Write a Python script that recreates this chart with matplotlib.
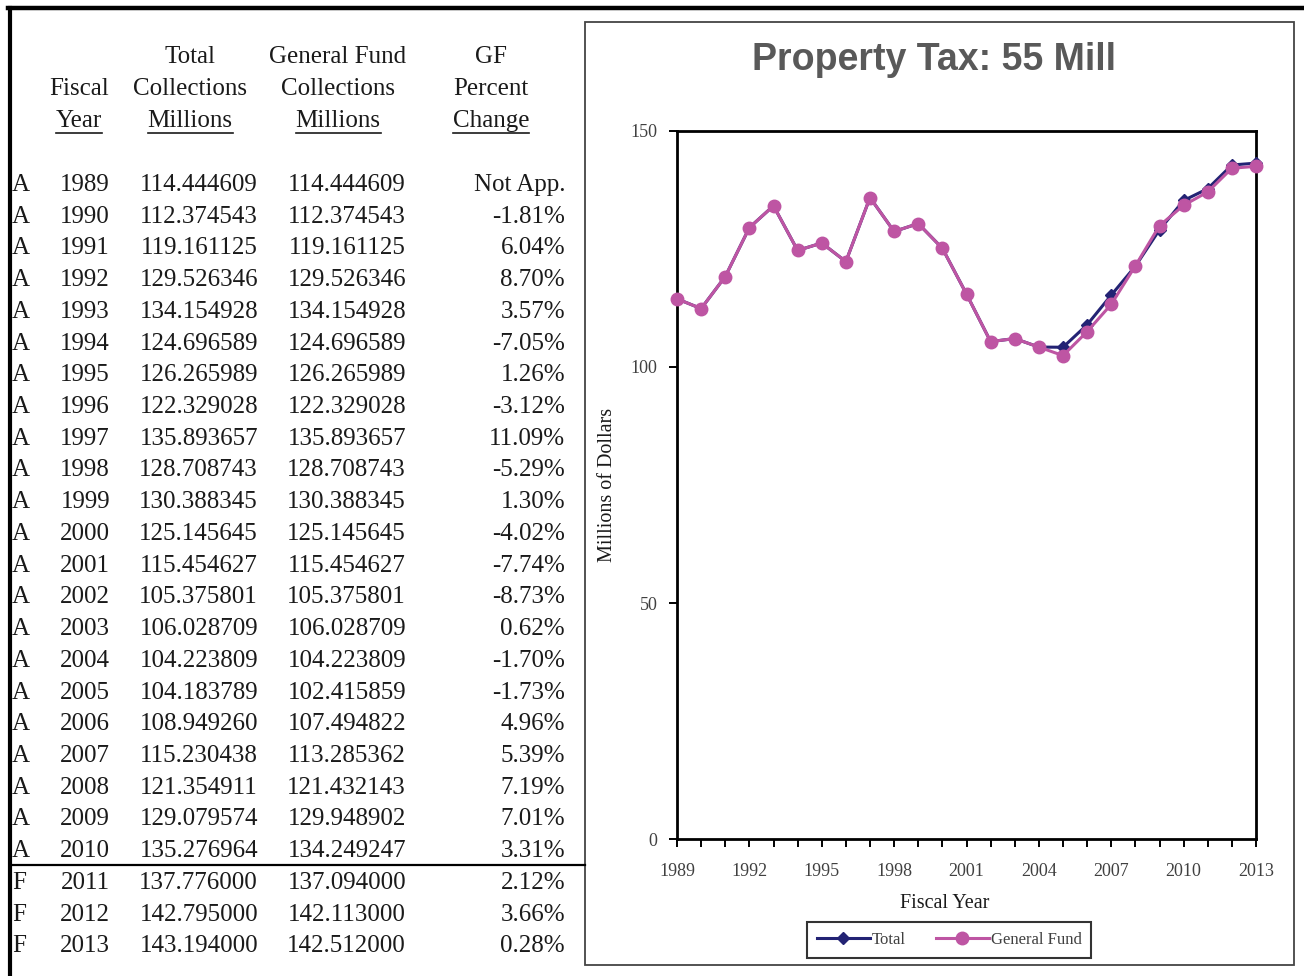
import matplotlib
matplotlib.use("Agg")

import matplotlib.pyplot as plt
from matplotlib.lines import Line2D
from matplotlib.patches import Rectangle

W, H = 1304, 976
SERIF = ["Liberation Serif", "DejaVu Serif"]

YEARS = list(range(1989, 2014))
STATUS = ["A"] * 22 + ["F"] * 3
TOTAL = [114.444609, 112.374543, 119.161125, 129.526346, 134.154928, 124.696589,
         126.265989, 122.329028, 135.893657, 128.708743, 130.388345, 125.145645,
         115.454627, 105.375801, 106.028709, 104.223809, 104.183789, 108.949260,
         115.230438, 121.354911, 129.079574, 135.276964, 137.776000, 142.795000,
         143.194000]
GENERAL_FUND = [114.444609, 112.374543, 119.161125, 129.526346, 134.154928, 124.696589,
                126.265989, 122.329028, 135.893657, 128.708743, 130.388345, 125.145645,
                115.454627, 105.375801, 106.028709, 104.223809, 102.415859, 107.494822,
                113.285362, 121.432143, 129.948902, 134.249247, 137.094000, 142.113000,
                142.512000]
PCT_CHANGE = [None, -1.81, 6.04, 8.70, 3.57, -7.05, 1.26, -3.12, 11.09, -5.29,
              1.30, -4.02, -7.74, -8.73, 0.62, -1.70, -1.73, 4.96, 5.39, 7.19,
              7.01, 3.31, 2.12, 3.66, 0.28]

HEADERS = [
    (79, ["", "Fiscal", "Year"]),
    (190, ["Total", "Collections", "Millions"]),
    (338, ["General Fund", "Collections", "Millions"]),
    (491, ["GF", "Percent", "Change"]),
]

TOTAL_COLOR = "#232374"
GF_COLOR = "#BE55A3"
TEXT_COLOR = "#1a1a1a"


def fx(px):
    return px / W


def fy(py):
    return 1 - py / H


fig = plt.figure(figsize=(W / 100, H / 100), dpi=100)

# outer page border (top and left only)
fig.add_artist(Line2D([fx(8), fx(W)], [fy(8), fy(8)], color="black", lw=3.2))
fig.add_artist(Line2D([fx(10), fx(10)], [fy(8), fy(H)], color="black", lw=3.0))

# ---- table ----
table_fs = 18
header_rows = [57, 89, 121]
underline_texts = []
for cx, lines in HEADERS:
    for row_y, txt in zip(header_rows, lines):
        if not txt:
            continue
        t = fig.text(fx(cx), fy(row_y), txt, ha="center", va="center",
                     family=SERIF, fontsize=table_fs, color=TEXT_COLOR)
        if row_y == header_rows[-1]:
            underline_texts.append(t)

row0, step = 183, 31.72
for i, yr in enumerate(YEARS):
    base = fy(row0 + i * step + 8)
    pct = "Not App." if PCT_CHANGE[i] is None else f"{PCT_CHANGE[i]:.2f}%"
    fig.text(fx(12), base, STATUS[i], ha="left", va="baseline",
             family=SERIF, fontsize=table_fs, color=TEXT_COLOR)
    fig.text(fx(110), base, str(yr), ha="right", va="baseline",
             family=SERIF, fontsize=table_fs, color=TEXT_COLOR)
    fig.text(fx(258), base, f"{TOTAL[i]:.6f}", ha="right", va="baseline",
             family=SERIF, fontsize=table_fs, color=TEXT_COLOR)
    fig.text(fx(406), base, f"{GENERAL_FUND[i]:.6f}", ha="right", va="baseline",
             family=SERIF, fontsize=table_fs, color=TEXT_COLOR)
    fig.text(fx(565), base, pct, ha="right", va="baseline",
             family=SERIF, fontsize=table_fs, color=TEXT_COLOR)

# actual / forecast separator
fig.add_artist(Line2D([fx(10), fx(585)], [fy(865), fy(865)], color="black", lw=1.6))

# ---- chart panel ----
fig.add_artist(Rectangle((fx(585), fy(965)), fx(1294) - fx(585), fy(22) - fy(965),
                         transform=fig.transFigure, fill=False,
                         edgecolor="#444444", lw=1.3))

fig.text(fx(934), fy(60), "Property Tax: 55 Mill", ha="center", va="center",
         family=["Liberation Sans", "DejaVu Sans"], fontweight="bold",
         fontsize=27, color="#595959")

ax = fig.add_axes([fx(677), fy(839), fx(1256) - fx(677), fy(131) - fy(839)])
l_total, = ax.plot(YEARS, TOTAL, color=TOTAL_COLOR, lw=2.2, marker="D", ms=6,
                   label="Total", zorder=3, clip_on=False)
l_gf, = ax.plot(YEARS, GENERAL_FUND, color=GF_COLOR, lw=2.2, marker="o", ms=9,
                label="General Fund", zorder=4, clip_on=False)

ax.set_xlim(1989, 2013)
ax.set_ylim(0, 150)
ax.set_xticks(YEARS)
ax.set_xticklabels([str(y) if (y - 1989) % 3 == 0 else "" for y in YEARS])
ax.set_yticks([0, 50, 100, 150])
for s in ax.spines.values():
    s.set_linewidth(2.0)
ax.tick_params(axis="x", direction="out", length=6, width=1.4, pad=11,
               labelsize=13, labelcolor="#404040")
ax.tick_params(axis="y", direction="out", length=6, width=1.4, pad=8,
               labelsize=13, labelcolor="#404040")
for lab in ax.get_xticklabels() + ax.get_yticklabels():
    lab.set_family(SERIF)

ax.set_xlabel("Fiscal Year", family=SERIF, fontsize=14.5, color=TEXT_COLOR)
ax.xaxis.set_label_coords((945 - 677) / 579, (839 - 904) / 708)
ax.xaxis.label.set_va("center")
ax.set_ylabel("Millions of Dollars", family=SERIF, fontsize=14.5, color=TEXT_COLOR)
ax.yaxis.set_label_coords((608 - 677) / 579, 0.5)
ax.yaxis.label.set_va("center")

leg = fig.legend(handles=[l_total, l_gf], loc="center",
                 bbox_to_anchor=(fx(949), fy(940)), ncol=2, frameon=True,
                 fancybox=False, edgecolor="black", handlelength=3.2,
                 handletextpad=0.1, columnspacing=1.8, borderpad=0.6,
                 borderaxespad=0, prop={"family": SERIF, "size": 12})
leg.get_frame().set_linewidth(1.5)
for txt in leg.get_texts():
    txt.set_color("#404040")

# underline the last header row
fig.canvas.draw()
renderer = fig.canvas.get_renderer()
for t in underline_texts:
    bb = t.get_window_extent(renderer)
    fig.add_artist(Line2D([bb.x0 / W, bb.x1 / W], [fy(133), fy(133)],
                          color=TEXT_COLOR, lw=1.2))

fig.savefig("out.png", dpi=100)
